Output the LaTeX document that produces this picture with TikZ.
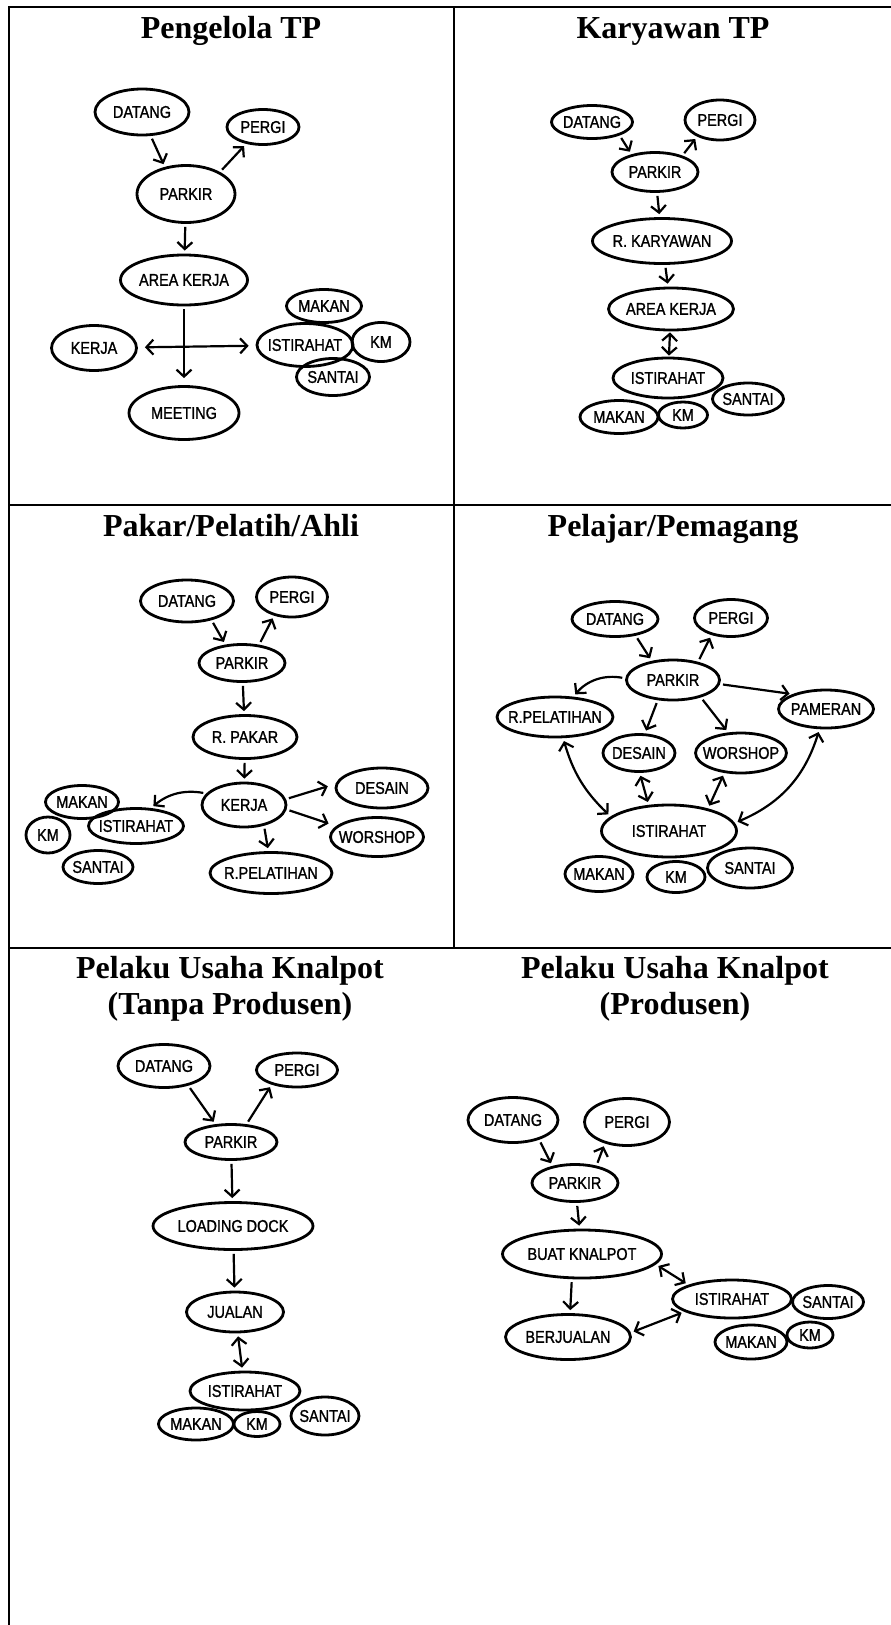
\documentclass[tikz,border=0pt]{standalone}
\usepackage{fontspec}
\setmainfont{Liberation Serif}
\newfontfamily\handfont[FakeStretch=0.85,FakeBold=1.2]{Liberation Sans}
\usetikzlibrary{arrows.meta,shapes.geometric}

\begin{document}
\begin{tikzpicture}[x=1pt,y=1pt,>={Straight Barb[length=7pt,width=15pt]},
  blob/.style={ellipse,draw,line width=2.8pt,inner xsep=-6pt,inner ysep=0pt,
    font=\handfont\fontsize{17}{19}\selectfont},
  sz/.style 2 args={minimum width=#1pt,minimum height=#2pt},
  flow/.style={->,line width=2.2pt,shorten <=3pt,shorten >=3pt},
  both/.style={<->,line width=2.2pt,shorten <=3pt,shorten >=3pt},
  head/.style={font=\bfseries\fontsize{32}{36}\selectfont,inner sep=0pt},
  rule/.style={line width=2.2pt}]
  \useasboundingbox (0,0) rectangle (891,-1625);
  % table rules: no right edge, no divider in the last row
  \draw[rule] (8,-7) -- (891,-7);
  \draw[rule] (9,-6) -- (9,-1625);
  \draw[rule] (454,-6) -- (454,-948);
  \foreach \y in {505,948} \draw[rule] (8,-\y) -- (891,-\y);

  % pengelola tp
  \node[head,anchor=base] (tA) at (231,-38) {Pengelola TP};
  \node[blob,sz={94}{46}] (aDatang) at (142,-112) {DATANG};
  \node[blob,sz={72}{35}] (aPergi) at (263,-127) {PERGI};
  \node[blob,sz={98}{57}] (aParkir) at (186,-194) {PARKIR};
  \node[blob,sz={127}{50}] (aArea) at (184,-280) {AREA KERJA};
  \node[blob,sz={85}{45}] (aKerja) at (94,-348) {KERJA};
  \node[blob,sz={96}{43}] (aIst) at (305,-345) {ISTIRAHAT};
  \node[blob,sz={75}{33}] (aMakan) at (324,-306) {MAKAN};
  \node[blob,sz={58}{39}] (aKm) at (381,-342) {KM};
  \node[blob,sz={73}{37}] (aSantai) at (333,-377) {SANTAI};
  \node[blob,sz={110}{53}] (aMeeting) at (184,-413) {MEETING};
  \draw[flow] (aDatang.-70) -- (aParkir.128);
  \draw[flow] (aParkir.33) -- (aPergi.225);
  \draw[flow] (aParkir) -- (aArea);
  \draw[flow,shorten >=7pt] (aArea) -- (aMeeting);
  \draw[both,shorten <=7pt,shorten >=7pt] (aKerja) -- (aIst);

  % karyawan tp
  \node[head,anchor=base] (tB) at (673,-38) {Karyawan TP};
  \node[blob,sz={81}{33}] (bDatang) at (592,-122) {DATANG};
  \node[blob,sz={70}{40}] (bPergi) at (720,-120) {PERGI};
  \node[blob,sz={86}{39}] (bParkir) at (655,-172) {PARKIR};
  \node[blob,sz={139}{45}] (bRuang) at (662,-241) {R. KARYAWAN};
  \node[blob,sz={125}{42}] (bArea) at (671,-309) {AREA KERJA};
  \node[blob,sz={110}{40}] (bIst) at (668,-378) {ISTIRAHAT};
  \node[blob,sz={71}{32}] (bSantai) at (748,-399) {SANTAI};
  \node[blob,sz={78}{33}] (bMakan) at (619,-417) {MAKAN};
  \node[blob,sz={49}{26}] (bKm) at (683,-415) {KM};
  \draw[flow] (bDatang.-26) -- (bParkir.143);
  \draw[flow] (bParkir.31) -- (bPergi.216);
  \draw[flow] (bParkir) -- (bRuang);
  \draw[flow] (bRuang) -- (bArea);
  \draw[both,shorten <=1pt,shorten >=1pt] (bArea) -- (bIst);

  % pakar / pelatih / ahli
  \node[head,anchor=base] (tC) at (231,-536) {Pakar/Pelatih/Ahli};
  \node[blob,sz={93}{42}] (cDatang) at (187,-601) {DATANG};
  \node[blob,sz={71}{40}] (cPergi) at (292,-597) {PERGI};
  \node[blob,sz={86}{37}] (cParkir) at (242,-663) {PARKIR};
  \node[blob,sz={104}{43}] (cRuang) at (245,-737) {R. PAKAR};
  \node[blob,sz={84}{44}] (cKerja) at (244,-805) {KERJA};
  \node[blob,sz={92}{40}] (cDesain) at (382,-788) {DESAIN};
  \node[blob,sz={93}{39}] (cWorshop) at (377,-837) {WORSHOP};
  \node[blob,sz={122}{41}] (cPelatihan) at (271,-873) {R.PELATIHAN};
  \node[blob,sz={73}{33}] (cMakan) at (82,-802) {MAKAN};
  \node[blob,sz={95}{35}] (cIst) at (136,-826) {ISTIRAHAT};
  \node[blob,sz={44}{36}] (cKm) at (48,-835) {KM};
  \node[blob,sz={70}{33}] (cSantai) at (98,-867) {SANTAI};
  \draw[flow] (cDatang.-38) -- (cParkir.132);
  \draw[flow] (cParkir.47) -- (cPergi.226);
  \draw[flow] (cParkir) -- (cRuang);
  \draw[flow] (cRuang) -- (cKerja);
  \draw[flow] (cKerja.163) to[bend right=25] (cIst.50);
  \draw[flow,shorten >=8pt] (cKerja.8) -- (cDesain.175);
  \draw[flow,shorten >=8pt] (cKerja.-6) -- (cWorshop.165);
  \draw[flow] (cKerja.-46) -- (cPelatihan.97);

  % pelajar / pemagang
  \node[head,anchor=base] (tD) at (673,-536) {Pelajar/Pemagang};
  \node[blob,sz={86}{35}] (dDatang) at (615,-619) {DATANG};
  \node[blob,sz={73}{37}] (dPergi) at (731,-618) {PERGI};
  \node[blob,sz={93}{40}] (dParkir) at (673,-680) {PARKIR};
  \node[blob,sz={116}{40}] (dPelatihan) at (555,-717) {R.PELATIHAN};
  \node[blob,sz={95}{38}] (dPameran) at (826,-709) {PAMERAN};
  \node[blob,sz={72}{37}] (dDesain) at (639,-753) {DESAIN};
  \node[blob,sz={85}{40}] (dWorshop) at (741,-753) {WORSHOP};
  \node[blob,sz={135}{52}] (dIst) at (669,-831) {ISTIRAHAT};
  \node[blob,sz={68}{35}] (dMakan) at (599,-874) {MAKAN};
  \node[blob,sz={58}{31}] (dKm) at (676,-877) {KM};
  \node[blob,sz={85}{40}] (dSantai) at (750,-868) {SANTAI};
  \draw[flow] (dDatang.-39) -- (dParkir.138);
  \draw[flow] (dParkir.36) -- (dPergi.221);
  \draw[flow] (dParkir.178) to[bend right=30] (dPelatihan.48);
  \draw[flow] (dParkir.-5) -- (dPameran.156);
  \draw[flow] (dParkir.233) -- (dDesain.73);
  \draw[flow] (dParkir.-32) -- (dWorshop.122);
  \draw[both] (dPelatihan.-69) to[bend right=15] (dIst.166);
  \draw[both] (dDesain.-88) -- (dIst.128);
  \draw[both] (dWorshop.230) -- (dIst.30);
  \draw[both] (dPameran.252) to[bend left=25] (dIst.7);

  % pelaku usaha knalpot, tanpa produsen
  \node[head,align=center,anchor=north] (tE) at (230,-956) {Pelaku Usaha Knalpot\\(Tanpa Produsen)};
  \node[blob,sz={92}{43}] (eDatang) at (164,-1066) {DATANG};
  \node[blob,sz={81}{34}] (ePergi) at (297,-1070) {PERGI};
  \node[blob,sz={92}{35}] (eParkir) at (231,-1142) {PARKIR};
  \node[blob,sz={160}{47}] (eLoading) at (233,-1226) {LOADING DOCK};
  \node[blob,sz={97}{40}] (eJualan) at (235,-1312) {JUALAN};
  \node[blob,sz={110}{38}] (eIst) at (245,-1391) {ISTIRAHAT};
  \node[blob,sz={75}{32}] (eMakan) at (196,-1424) {MAKAN};
  \node[blob,sz={46}{25}] (eKm) at (257,-1424) {KM};
  \node[blob,sz={68}{38}] (eSantai) at (325,-1416) {SANTAI};
  \draw[flow] (eDatang.-39) -- (eParkir.131);
  \draw[flow] (eParkir.49) -- (ePergi.210);
  \draw[flow] (eParkir) -- (eLoading);
  \draw[flow] (eLoading) -- (eJualan);
  \draw[both] (eJualan) -- (eIst);

  % pelaku usaha knalpot, produsen
  \node[head,align=center,anchor=north] (tF) at (675,-956) {Pelaku Usaha Knalpot\\(Produsen)};
  \node[blob,sz={90}{45}] (fDatang) at (513,-1120) {DATANG};
  \node[blob,sz={85}{47}] (fPergi) at (627,-1122) {PERGI};
  \node[blob,sz={86}{37}] (fParkir) at (575,-1183) {PARKIR};
  \node[blob,sz={159}{48}] (fBuat) at (582,-1254) {BUAT KNALPOT};
  \node[blob,sz={119}{38}] (fIst) at (732,-1299) {ISTIRAHAT};
  \node[blob,sz={71}{33}] (fSantai) at (828,-1302) {SANTAI};
  \node[blob,sz={125}{45}] (fBerj) at (568,-1337) {BERJUALAN};
  \node[blob,sz={72}{34}] (fMakan) at (751,-1342) {MAKAN};
  \node[blob,sz={46}{26}] (fKm) at (810,-1335) {KM};
  \draw[flow] (fDatang.-37) -- (fParkir.143);
  \draw[flow] (fParkir.39) -- (fPergi.224);
  \draw[flow] (fParkir) -- (fBuat);
  \draw[both] (fBuat.-8) -- (fIst.162);
  \draw[flow] (fBuat.248) -- (fBerj.85);
  \draw[both] (fBerj.4) -- (fIst.195);
\end{tikzpicture}
\end{document}
